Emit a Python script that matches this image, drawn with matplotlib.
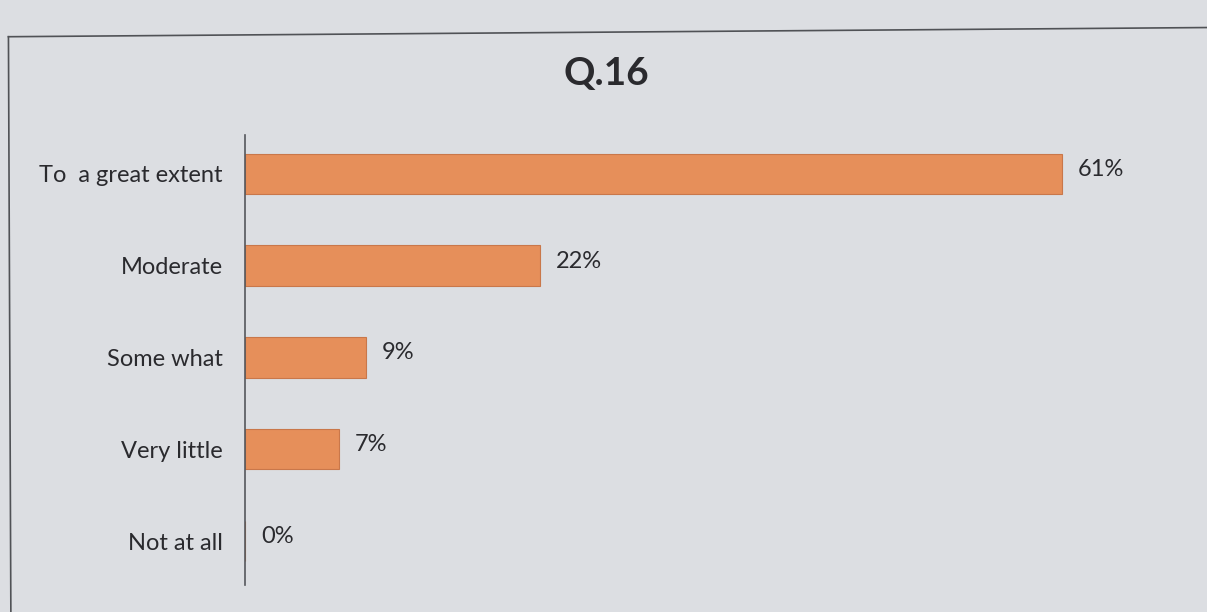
import matplotlib
matplotlib.use('Agg')
import matplotlib.pyplot as plt
from matplotlib.lines import Line2D

categories = ['To  a great extent', 'Moderate', 'Some what', 'Very little', 'Not at all']
values = [61, 22, 9, 7, 0]
value_labels = ['61%', '22%', '9%', '7%', '0%']
title = 'Q.16'

bg = '#dcdee2'
bar_color = '#e68f5a'
edge_color = '#c9774a'
text_color = '#2a2a2e'

plt.rcParams['font.family'] = ['Lato', 'DejaVu Sans']

fig = plt.figure(figsize=(12.07, 6.12), dpi=100, facecolor=bg)
ax = fig.add_axes([0.203, 0.044, 0.75, 0.735], facecolor=bg)

y = list(range(len(categories)))
ax.barh(y, values, height=0.44, color=bar_color, edgecolor=edge_color, linewidth=0.8)
for yi, v, lab in zip(y, values, value_labels):
    ax.text(v + 1.2, yi - 0.05, lab, va='center', ha='left', fontsize=17, color=text_color)

ax.set_xlim(0, 67.6)
ax.set_ylim(4.48, -0.42)
ax.set_yticks(y)
ax.set_yticklabels(categories, fontsize=17, color=text_color)
ax.tick_params(axis='y', length=0, pad=16)
ax.set_xticks([])
for s in ['top', 'right', 'bottom']:
    ax.spines[s].set_visible(False)
ax.spines['left'].set_color('#55575c')
ax.spines['left'].set_linewidth(1.2)

fig.text(0.502, 0.88, title, ha='center', va='center', fontsize=28,
         fontweight='bold', color=text_color)

# page frame of the printed chart
fig.add_artist(Line2D([0.007, 1.0], [0.94, 0.955], color='#505256', lw=1.2))
fig.add_artist(Line2D([0.007, 0.009], [0.94, 0.0], color='#505256', lw=1.2))

fig.savefig('out.png', dpi=100, facecolor=bg)
